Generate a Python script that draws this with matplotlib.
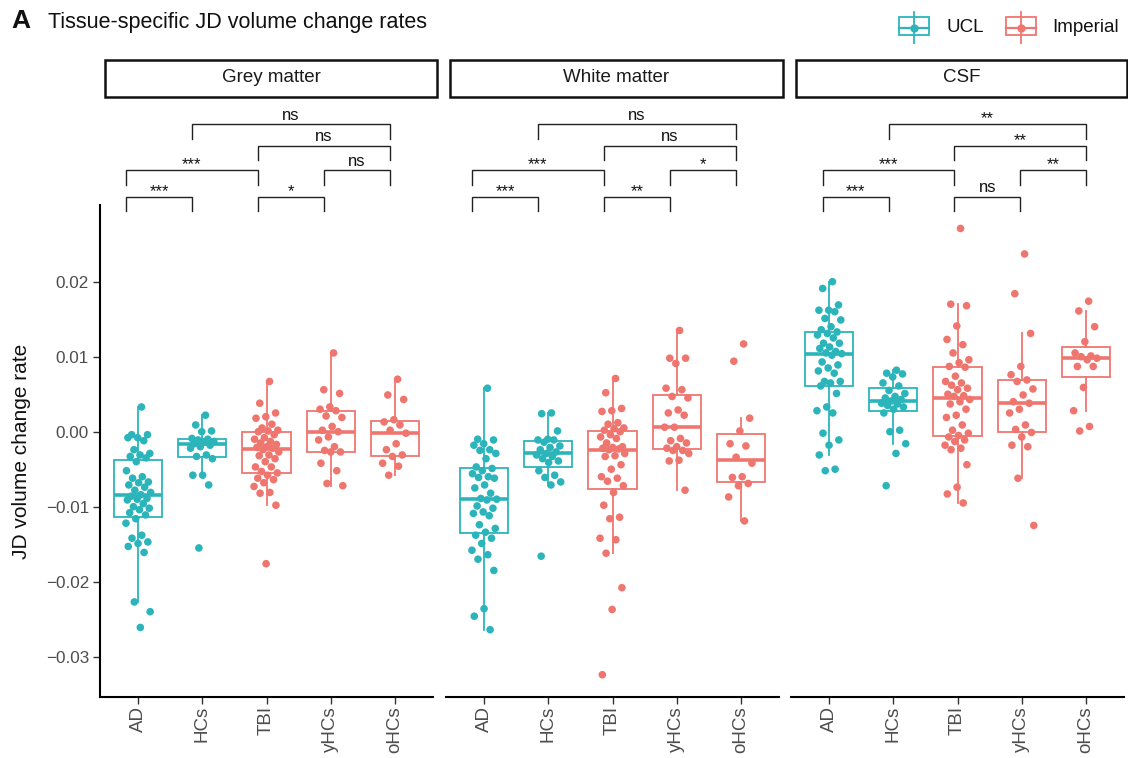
import numpy as np
import matplotlib
matplotlib.use("Agg")
import matplotlib.pyplot as plt
from matplotlib.patches import Rectangle
from matplotlib.lines import Line2D

plt.rcParams['font.family'] = ['Liberation Sans', 'DejaVu Sans']

# ---- data (JD volume change rate per subject) ----
groups = ["AD", "HCs", "TBI", "yHCs", "oHCs"]
sites = ["UCL", "UCL", "Imperial", "Imperial", "Imperial"]
tissues = ["Grey matter", "White matter", "CSF"]

gm_ad = [0.0033, -0.0004, -0.0004, -0.0008, -0.0008, -0.0012, -0.0024, -0.0029, -0.0031, -0.0033,
         -0.0035, -0.0040, -0.0052, -0.0060, -0.0062, -0.0067, -0.0068, -0.0071, -0.0074, -0.0078,
         -0.0081, -0.0084, -0.0086, -0.0089, -0.0090, -0.0091, -0.0096, -0.0100, -0.0102, -0.0104,
         -0.0108, -0.0111, -0.0116, -0.0122, -0.0138, -0.0142, -0.0147, -0.0149, -0.0153, -0.0161,
         -0.0227, -0.0240, -0.0261]
gm_hcs = [0.0022, 0.0009, 0.0001, 0.0000, -0.0009, -0.0010, -0.0011, -0.0013, -0.0014, -0.0016,
          -0.0018, -0.0020, -0.0022, -0.0031, -0.0033, -0.0036, -0.0058, -0.0058, -0.0071, -0.0155]
gm_tbi = [0.0067, 0.0038, 0.0025, 0.0020, 0.0018, 0.0010, 0.0005, 0.0002, 0.0001, 0.0000,
          -0.0004, -0.0008, -0.0010, -0.0013, -0.0015, -0.0017, -0.0020, -0.0021, -0.0022, -0.0024,
          -0.0027, -0.0031, -0.0032, -0.0036, -0.0040, -0.0047, -0.0047, -0.0053, -0.0055, -0.0058,
          -0.0062, -0.0064, -0.0068, -0.0073, -0.0081, -0.0082, -0.0098, -0.0176]
gm_yhcs = [0.0105, 0.0056, 0.0051, 0.0033, 0.0030, 0.0028, 0.0021, 0.0019, 0.0007, 0.0002, 0.0000,
           -0.0007, -0.0011, -0.0020, -0.0025, -0.0027, -0.0027, -0.0042, -0.0052, -0.0069, -0.0072]
gm_ohcs = [0.0070, 0.0049, 0.0043, 0.0016, 0.0013, 0.0009, 0.0002, -0.0002, -0.0016, -0.0024,
           -0.0031, -0.0033, -0.0042, -0.0046, -0.0058]

wm_ad = [0.0058, -0.0010, -0.0011, -0.0016, -0.0018, -0.0024, -0.0025, -0.0029, -0.0036, -0.0047,
         -0.0049, -0.0052, -0.0056, -0.0060, -0.0061, -0.0062, -0.0071, -0.0075, -0.0082, -0.0089,
         -0.0090, -0.0091, -0.0099, -0.0102, -0.0107, -0.0109, -0.0112, -0.0124, -0.0129, -0.0134,
         -0.0138, -0.0142, -0.0149, -0.0158, -0.0164, -0.0170, -0.0185, -0.0236, -0.0246, -0.0264]
wm_hcs = [0.0025, 0.0024, 0.0001, -0.0010, -0.0011, -0.0011, -0.0014, -0.0019, -0.0021, -0.0024,
          -0.0027, -0.0029, -0.0031, -0.0033, -0.0036, -0.0039, -0.0041, -0.0052, -0.0058, -0.0061,
          -0.0067, -0.0071, -0.0166]
wm_tbi = [0.0071, 0.0052, 0.0031, 0.0028, 0.0027, 0.0012, 0.0010, 0.0005, 0.0004, 0.0002, 0.0000,
          -0.0004, -0.0007, -0.0009, -0.0015, -0.0020, -0.0021, -0.0022, -0.0023, -0.0024, -0.0029,
          -0.0032, -0.0033, -0.0044, -0.0050, -0.0060, -0.0062, -0.0066, -0.0072, -0.0081, -0.0098,
          -0.0114, -0.0116, -0.0142, -0.0144, -0.0162, -0.0208, -0.0237, -0.0324]
wm_yhcs = [0.0135, 0.0098, 0.0098, 0.0091, 0.0058, 0.0056, 0.0047, 0.0045, 0.0029, 0.0025, 0.0022,
           0.0006, 0.0006, -0.0009, -0.0012, -0.0015, -0.0020, -0.0022, -0.0025, -0.0025, -0.0029,
           -0.0038, -0.0039, -0.0078]
wm_ohcs = [0.0117, 0.0094, 0.0018, 0.0001, -0.0016, -0.0019, -0.0034, -0.0042, -0.0060, -0.0061,
           -0.0069, -0.0072, -0.0087, -0.0119]

csf_ad = [0.0200, 0.0191, 0.0169, 0.0162, 0.0162, 0.0160, 0.0151, 0.0149, 0.0140, 0.0136, 0.0133,
          0.0131, 0.0129, 0.0125, 0.0118, 0.0118, 0.0113, 0.0111, 0.0107, 0.0105, 0.0104, 0.0102,
          0.0093, 0.0089, 0.0085, 0.0081, 0.0078, 0.0067, 0.0067, 0.0065, 0.0061, 0.0051, 0.0033,
          0.0028, 0.0025, -0.0002, -0.0011, -0.0018, -0.0031, -0.0050, -0.0052]
csf_hcs = [0.0082, 0.0078, 0.0077, 0.0073, 0.0065, 0.0061, 0.0055, 0.0051, 0.0047, 0.0045, 0.0043,
           0.0041, 0.0038, 0.0037, 0.0035, 0.0033, 0.0030, 0.0025, 0.0002, 0.0000, -0.0016, -0.0029,
           -0.0072]
csf_tbi = [0.0271, 0.0170, 0.0168, 0.0141, 0.0123, 0.0116, 0.0105, 0.0096, 0.0092, 0.0087, 0.0086,
           0.0074, 0.0067, 0.0065, 0.0062, 0.0058, 0.0056, 0.0050, 0.0048, 0.0047, 0.0043, 0.0040,
           0.0037, 0.0030, 0.0022, 0.0019, 0.0009, 0.0002, -0.0002, -0.0005, -0.0007, -0.0011,
           -0.0013, -0.0018, -0.0022, -0.0024, -0.0044, -0.0074, -0.0083, -0.0095]
csf_yhcs = [0.0237, 0.0184, 0.0131, 0.0087, 0.0076, 0.0069, 0.0067, 0.0057, 0.0049, 0.0040, 0.0038,
            0.0030, 0.0025, 0.0009, 0.0003, -0.0001, -0.0007, -0.0018, -0.0020, -0.0062, -0.0125]
csf_ohcs = [0.0174, 0.0161, 0.0140, 0.0120, 0.0105, 0.0101, 0.0100, 0.0098, 0.0096, 0.0087, 0.0087,
            0.0059, 0.0028, 0.0007, 0.0001]

panel_data = [
    [gm_ad, gm_hcs, gm_tbi, gm_yhcs, gm_ohcs],
    [wm_ad, wm_hcs, wm_tbi, wm_yhcs, wm_ohcs],
    [csf_ad, csf_hcs, csf_tbi, csf_yhcs, csf_ohcs],
]

# pairwise comparisons: (group i, group j, bracket row, label)
pairs_gm = [(0, 1, 0, "***"), (2, 3, 0, "*"), (0, 2, 1, "***"), (3, 4, 1, "ns"), (2, 4, 2, "ns"), (1, 4, 3, "ns")]
pairs_wm = [(0, 1, 0, "***"), (2, 3, 0, "**"), (0, 2, 1, "***"), (3, 4, 1, "*"), (2, 4, 2, "ns"), (1, 4, 3, "ns")]
pairs_csf = [(0, 1, 0, "***"), (2, 3, 0, "ns"), (0, 2, 1, "***"), (3, 4, 1, "**"), (2, 4, 2, "**"), (1, 4, 3, "**")]
panel_pairs = [pairs_gm, pairs_wm, pairs_csf]

# ---- style ----
site_colors = {"UCL": "#2BB5BB", "Imperial": "#EF766F"}
W, H = 1128, 758


def fx(px):
    return px / W


def fy(py):
    return 1 - py / H


fig = plt.figure(figsize=(W / 100, H / 100), dpi=100)

panel_left = [100, 446, 791]
strip_x = [(105, 437), (450, 783), (796, 1126.5)]
bracket_x0 = [-0.193, -0.193, -0.105]
bracket_rows = [196.7, 170.0, 145.7, 124.0]   # pixel rows of the bracket bars
y_top_px, y_bot_px = 205, 697
ylim = ((431.7 - y_bot_px) / 7500, (431.7 - y_top_px) / 7500)
px_unit = 1 / 7500

for k, tissue in enumerate(tissues):
    ax = fig.add_axes([fx(panel_left[k]), fy(y_bot_px), 333 / W, (y_bot_px - y_top_px) / H])
    for i, (vals, site) in enumerate(zip(panel_data[k], sites)):
        c = site_colors[site]
        ax.boxplot(vals, positions=[i], widths=0.75, showfliers=False, showcaps=False, whis=1.5,
                   patch_artist=True,
                   boxprops=dict(facecolor="none", edgecolor=c, linewidth=1.3),
                   whiskerprops=dict(color=c, linewidth=1.3),
                   medianprops=dict(color=c, linewidth=2.6, solid_capstyle="butt"),
                   zorder=2)
        n = len(vals)
        jit = (((np.arange(n) + 1) * 0.6180339887) % 1 - 0.5) * 0.4
        ax.scatter(i + jit, vals, s=30, color=c, edgecolors="none", zorder=3)

    ax.set_xlim(-0.6, 4.6)
    ax.set_ylim(*ylim)
    ax.set_xticks(range(5))
    ax.set_xticklabels(groups, rotation=90, fontsize=13.5, color="#4D4D4D")
    ax.set_yticks([-0.03, -0.02, -0.01, 0.0, 0.01, 0.02])
    ax.set_yticklabels(["\u22120.03", "\u22120.02", "\u22120.01", "0.00", "0.01", "0.02"],
                       fontsize=12.3, color="#4D4D4D")
    ax.tick_params(axis="both", length=5, width=1.0, color="#333333", pad=3)
    ax.tick_params(axis="x", pad=1.5)
    for s in ["top", "right"]:
        ax.spines[s].set_visible(False)
    ax.spines["bottom"].set_linewidth(1.5)
    ax.spines["left"].set_linewidth(1.5)
    if k > 0:
        ax.spines["left"].set_visible(False)
        ax.tick_params(axis="y", left=False, labelleft=False)
    ax.patch.set_alpha(0)

    # significance brackets above the panel
    leg = 14.5 * px_unit
    for (i, j, row, lab) in panel_pairs[k]:
        xa = bracket_x0[k] + 1.029 * i
        xb = bracket_x0[k] + 1.029 * j
        yb = (431.7 - bracket_rows[row]) / 7500
        ax.plot([xa, xa, xb, xb], [yb - leg, yb, yb, yb - leg], color="#222222", lw=1.0,
                clip_on=False, solid_joinstyle="miter")
        dy = 4.5 if lab == "ns" else 0.5
        ax.text((xa + xb) / 2, yb + dy * px_unit, lab, ha="center", va="baseline",
                fontsize=12, color="#111111", clip_on=False)

    # facet strip
    x0, x1 = strip_x[k]
    fig.add_artist(Rectangle((fx(x0), fy(96.5)), fx(x1) - fx(x0), (96.5 - 59.5) / H,
                             transform=fig.transFigure, facecolor="white", edgecolor="#111111",
                             linewidth=1.8))
    fig.text(fx((x0 + x1) / 2), fy(78), tissue, ha="center", va="center", fontsize=13.5, color="#1A1A1A")

# y label
fig.text(fx(22), fy(451), "JD volume change rate", rotation=90, ha="center", va="center",
         fontsize=15, color="#111111")

# title
fig.text(fx(11), fy(28), "A", fontsize=19, fontweight="bold", va="baseline", color="#111111")
fig.text(fx(48), fy(28), "Tissue-specific JD volume change rates", fontsize=15.5, va="baseline",
         color="#111111")

# legend (boxplot keys)
for cx, tx, site in [(914, 946, "UCL"), (1021, 1052, "Imperial")]:
    c = site_colors[site]
    fig.add_artist(Line2D([fx(cx), fx(cx)], [fy(11.5), fy(42.5)], transform=fig.transFigure,
                          color=c, lw=1.3))
    fig.add_artist(Rectangle((fx(cx - 15), fy(35)), 30 / W, 18.5 / H, transform=fig.transFigure,
                             facecolor="white", edgecolor=c, lw=1.3))
    fig.add_artist(Line2D([fx(cx - 15), fx(cx + 15)], [fy(27.5), fy(27.5)], transform=fig.transFigure,
                          color=c, lw=1.6))
    fig.add_artist(Line2D([fx(cx)], [fy(27.5)], transform=fig.transFigure, color=c, marker="o",
                          markersize=6, markeredgewidth=0))
    fig.text(fx(tx), fy(28), site, fontsize=13.5, va="center", color="#111111")

fig.savefig("out.png", dpi=100)
